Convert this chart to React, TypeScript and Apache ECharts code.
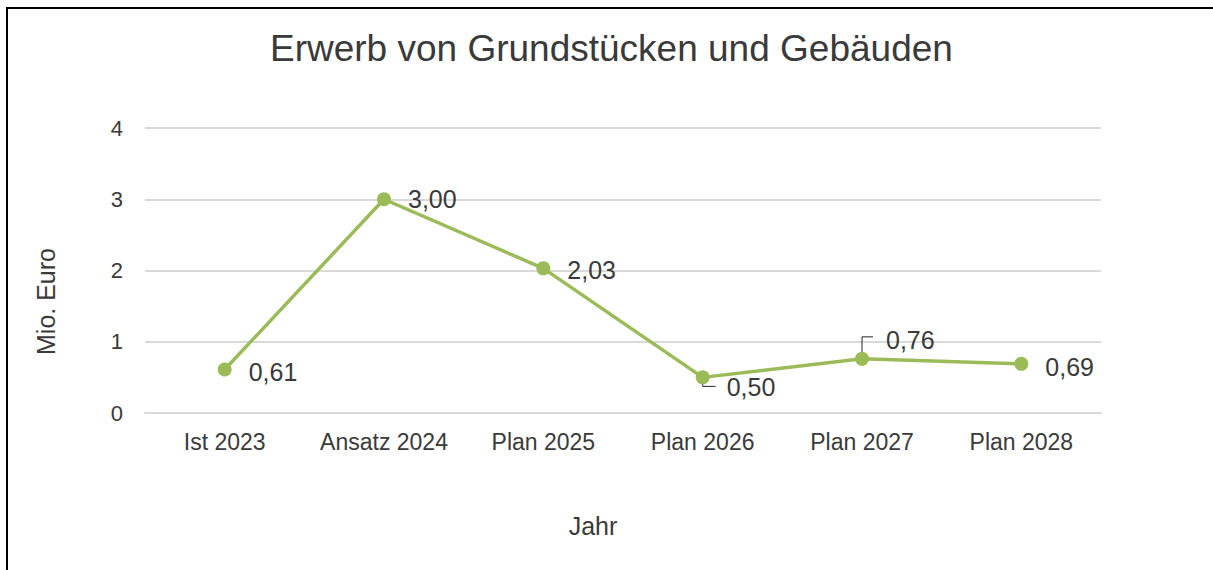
import React, { useEffect, useRef } from "react";
import * as echarts from "echarts";

const categories = ["Ist 2023", "Ansatz 2024", "Plan 2025", "Plan 2026", "Plan 2027", "Plan 2028"];
const values = [0.61, 3.0, 2.03, 0.5, 0.76, 0.69];
const yMin = 0;
const yMax = 4;
const yStep = 1;
const titleText = "Erwerb von Grundstücken und Gebäuden";
const yAxisTitle = "Mio. Euro";
const xAxisTitle = "Jahr";

const FONT = "'Liberation Sans', Arial, sans-serif";
const TEXT = "#3a3a3a";
const GREEN = "#9BBB59";

export default function App() {
  const ref = useRef<HTMLDivElement>(null);
  useEffect(() => {
    if (!ref.current) return;
    const chart = echarts.init(ref.current, undefined, { renderer: "svg" });
    const offsets: number[][] = [[0, 2], [0, 0], [0, 2], [0, 10], [0, -19], [0, 3]];
    const fmt = (v: number) => v.toFixed(2).replace(".", ",");
    chart.setOption({
      animation: false,
      backgroundColor: "#ffffff",
      title: {
        text: titleText,
        left: 270,
        top: 30,
        padding: 0,
        textStyle: { fontFamily: FONT, fontSize: 37, fontWeight: "normal", color: TEXT },
      },
      grid: { left: 145, right: 112, top: 128, bottom: 157, containLabel: false },
      xAxis: {
        type: "category",
        data: categories,
        boundaryGap: true,
        axisLine: { show: true, lineStyle: { color: "#d9d9d9", width: 2 } },
        axisTick: { show: false },
        axisLabel: { fontFamily: FONT, fontSize: 23, color: TEXT, margin: 17, interval: 0, hideOverlap: false },
        name: xAxisTitle,
        nameLocation: "middle",
        nameGap: 100,
        nameTextStyle: { fontFamily: FONT, fontSize: 25, color: TEXT, padding: [0, 60, 0, 0] },
      },
      yAxis: {
        type: "value",
        min: yMin,
        max: yMax,
        interval: yStep,
        axisLine: { show: false },
        axisTick: { show: false },
        splitLine: { lineStyle: { color: "#d9d9d9", width: 2 } },
        axisLabel: { fontFamily: FONT, fontSize: 22, color: TEXT, margin: 22, formatter: (v: number) => String(v) },
        name: yAxisTitle,
        nameLocation: "middle",
        nameGap: 87,
        nameRotate: 90,
        nameTextStyle: { fontFamily: FONT, fontSize: 25, color: TEXT, padding: [0, 62, 0, 0] },
      },
      series: [
        {
          type: "line",
          data: values.map((v, i) => ({
            value: v,
            label: { offset: offsets[i] },
          })),
          symbol: "circle",
          symbolSize: 14,
          lineStyle: { color: GREEN, width: 3.5 },
          itemStyle: { color: GREEN },
          z: 3,
          label: {
            show: true,
            position: "right",
            distance: 17,
            fontFamily: FONT,
            fontSize: 25,
            color: TEXT,
            formatter: (p: any) => fmt(p.value),
          },
        },
      ],
    });

    const p3 = chart.convertToPixel({ seriesIndex: 0 }, [3, values[3]]) as number[];
    const p4 = chart.convertToPixel({ seriesIndex: 0 }, [4, values[4]]) as number[];
    chart.setOption({
      graphic: [
        {
          type: "rect",
          shape: { x: 7, y: 8, width: 1400, height: 800 },
          style: { fill: "none", stroke: "#000000", lineWidth: 2 },
          silent: true,
        },
        {
          type: "polyline",
          z: 1,
          shape: { points: [[p3[0], p3[1]], [p3[0], p3[1] + 9], [p3[0] + 13, p3[1] + 9]] },
          style: { fill: "none", stroke: "#262626", lineWidth: 1 },
        },
        {
          type: "polyline",
          z: 1,
          shape: { points: [[p4[0], p4[1]], [p4[0], p4[1] - 22], [p4[0] + 11, p4[1] - 22]] },
          style: { fill: "none", stroke: "#262626", lineWidth: 1 },
        },
      ],
    });
    return () => chart.dispose();
  }, []);
  return (
    <div
      ref={ref}
      style={{ position: "fixed", left: 0, top: 0, width: 1213, height: 570, background: "#fff" }}
    />
  );
}
